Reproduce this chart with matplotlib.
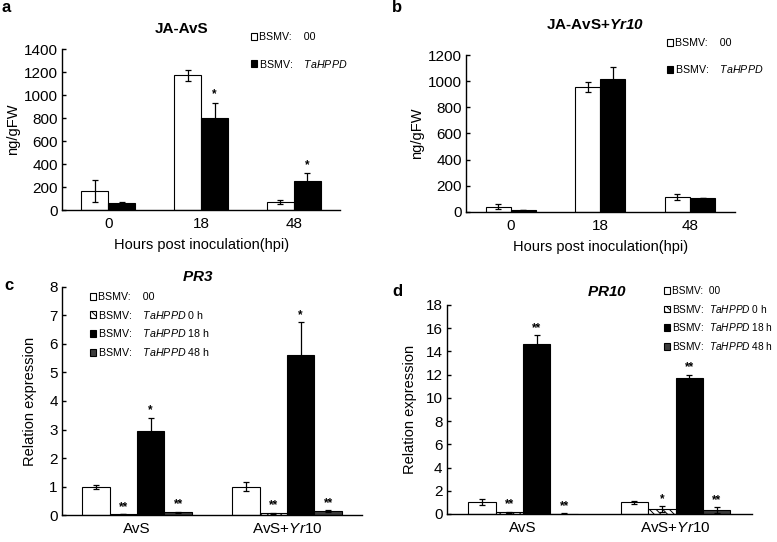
import numpy as np
import matplotlib
matplotlib.use("Agg")
import matplotlib.pyplot as plt
from matplotlib.patches import Patch

plt.rcParams['font.family'] = ['Liberation Sans', 'DejaVu Sans']
plt.rcParams['mathtext.fontset'] = 'custom'
plt.rcParams['mathtext.rm'] = 'Liberation Sans'
plt.rcParams['mathtext.it'] = 'Liberation Sans:italic'
plt.rcParams['mathtext.bf'] = 'Liberation Sans:bold:italic'
plt.rcParams['hatch.linewidth'] = 0.7

# ---- data ----
hpi = ['0', '18', '48']

ja_avs_00 = [165, 1170, 70]
ja_avs_00_err = [95, 50, 20]
ja_avs_hppd = [60, 800, 250]
ja_avs_hppd_err = [8, 135, 70]
ja_avs_stars = ['', '*', '*']

ja_yr10_00 = [40, 955, 115]
ja_yr10_00_err = [20, 35, 25]
ja_yr10_hppd = [12, 1015, 108]
ja_yr10_hppd_err = [0, 90, 0]

groups = ['AvS', r'AvS+$\it{Yr10}$']
pr3_00 = [1.0, 1.0]
pr3_00_err = [0.07, 0.17]
pr3_0h = [0.03, 0.06]
pr3_0h_err = [0.01, 0.02]
pr3_18h = [2.95, 5.62]
pr3_18h_err = [0.47, 1.15]
pr3_48h = [0.1, 0.13]
pr3_48h_err = [0.02, 0.04]
pr3_stars = [['', '**', '*', '**'], ['', '**', '*', '**']]

pr10_00 = [1.0, 1.0]
pr10_00_err = [0.25, 0.15]
pr10_0h = [0.15, 0.45]
pr10_0h_err = [0.05, 0.25]
pr10_18h = [14.6, 11.7]
pr10_18h_err = [0.8, 0.3]
pr10_48h = [0.04, 0.35]
pr10_48h_err = [0.01, 0.25]
pr10_stars = [['', '**', '**', '**'], ['', '*', '**', '**']]


def labels4(gap):
    sp = ' ' * gap
    return ['BSMV:' + sp + '00',
            'BSMV:' + sp + r'$\it{TaHPPD}$ 0 h',
            'BSMV:' + sp + r'$\it{TaHPPD}$ 18 h',
            'BSMV:' + sp + r'$\it{TaHPPD}$ 48 h']


lab_00 = 'BSMV:    00'
lab_hppd = r'BSMV:    $\it{TaHPPD}$'

styles = [dict(color='white', hatch=None),
          dict(color='white', hatch='\\\\\\\\\\'),
          dict(color='black', hatch=None),
          dict(color='#3c3c3c', hatch=None)]

FS = 10.5      # axis labels
LFS = 7.7      # legend
fig = plt.figure(figsize=(7.77, 5.42), dpi=100)


def style_ax(ax, ylim, step):
    ax.set_ylim(*ylim)
    ax.set_yticks(np.arange(ylim[0], ylim[1] + step / 2, step))
    for s in ['top', 'right']:
        ax.spines[s].set_visible(False)
    ax.spines['left'].set_linewidth(1)
    ax.spines['bottom'].set_linewidth(1)
    ax.tick_params(axis='y', direction='in', length=3, width=1, labelsize=FS + 0.5, pad=3)
    ax.tick_params(axis='x', length=0, labelsize=FS + 0.5, pad=5)


def draw_bars(ax, x, vals, errs, width, style, stars=None, offset=0.0):
    ax.bar(x, vals, width, color=style['color'], edgecolor='black', hatch=style['hatch'],
           linewidth=0.8, zorder=2)
    ax.errorbar(x, vals, yerr=errs, fmt='none', ecolor='black', elinewidth=0.9,
                capsize=2.5, capthick=0.9, zorder=3)
    if stars:
        for xi, v, e, s in zip(x, vals, errs, stars):
            if s:
                ax.text(xi, v + e + offset, s, ha='center', va='bottom',
                        fontsize=8.5, fontweight='bold')


def legend(handles, labels, xy, spacing, fs=LFS):
    fig.legend(handles=handles, labels=labels, loc='upper left', bbox_to_anchor=xy,
               frameon=False, fontsize=fs, handlelength=0.6, handleheight=0.6,
               handletextpad=0.15, labelspacing=spacing, borderpad=0, borderaxespad=0)


two = [Patch(facecolor='white', edgecolor='black', linewidth=0.8),
       Patch(facecolor='black', edgecolor='black', linewidth=0.8)]

# ---- panel a ----
ax = fig.add_axes([0.0798, 0.6125, 0.358, 0.297])
x = np.arange(3)
w = 0.29
draw_bars(ax, x - w / 2, ja_avs_00, ja_avs_00_err, w, styles[0])
draw_bars(ax, x + w / 2, ja_avs_hppd, ja_avs_hppd_err, w, styles[2], ja_avs_stars, 20)
ax.set_xlim(-0.5, 2.5)
style_ax(ax, (0, 1400), 200)
ax.set_xticks(x)
ax.set_xticklabels(hpi)
ax.set_ylabel('ng/gFW', fontsize=FS, labelpad=3)
ax.set_xlabel('Hours post inoculation(hpi)', fontsize=FS, labelpad=5)
ax.text(0.43, 1.124, 'JA-AvS', transform=ax.transAxes, ha='center', va='center',
        fontsize=FS + 0.5, fontweight='bold')
legend(two, [lab_00, lab_hppd], (251 / 777, 1 - 32 / 542), 1.45)

# ---- panel b ----
ax = fig.add_axes([0.5997, 0.609, 0.346, 0.2895])
w = 0.28
draw_bars(ax, x - w / 2, ja_yr10_00, ja_yr10_00_err, w, styles[0])
draw_bars(ax, x + w / 2, ja_yr10_hppd, ja_yr10_hppd_err, w, styles[2])
ax.set_xlim(-0.5, 2.5)
style_ax(ax, (0, 1200), 200)
ax.set_xticks(x)
ax.set_xticklabels(hpi)
ax.set_ylabel('ng/gFW', fontsize=FS, labelpad=3)
ax.set_xlabel('Hours post inoculation(hpi)', fontsize=FS, labelpad=5)
ax.text(0.48, 1.19, r'JA-AvS+$\mathbf{Yr10}$', transform=ax.transAxes, ha='center',
        va='center', fontsize=FS + 0.5, fontweight='bold')
legend(two, [lab_00, lab_hppd], (667 / 777, 1 - 38 / 542), 1.4)


def expr_panel(rect, series, errs, stars, ylim, step, title, tx, ty, legend_xy, w, lp, gap, lfs):
    ax = fig.add_axes(rect)
    xg = np.arange(2)
    offs = (np.arange(4) - 1.5) * w
    for i in range(4):
        st = [stars[g][i] for g in range(2)]
        draw_bars(ax, xg + offs[i], series[i], errs[i], w, styles[i], st, ylim[1] * 0.005)
    ax.set_xlim(-0.5, 1.5)
    style_ax(ax, ylim, step)
    ax.set_xticks(xg)
    ax.set_xticklabels(groups)
    ax.set_ylabel('Relation expression', fontsize=FS, labelpad=lp)
    ax.text(tx, ty, title, transform=ax.transAxes, ha='center', va='center',
            fontsize=FS + 0.5, fontweight='bold')
    handles = [Patch(facecolor=s['color'], edgecolor='black', hatch=s['hatch'], linewidth=0.8)
               for s in styles]
    legend(handles, labels4(gap), legend_xy, 0.62 * LFS / lfs, lfs)
    return ax


expr_panel([0.0798, 0.0498, 0.386, 0.4207],
           [pr3_00, pr3_0h, pr3_18h, pr3_48h],
           [pr3_00_err, pr3_0h_err, pr3_18h_err, pr3_48h_err],
           pr3_stars, (0, 8), 1, r'$\mathbf{PR3}$', 0.453, 1.044,
           (90 / 777, 1 - 292 / 542), 0.183, 9, 4, LFS)

expr_panel([0.575, 0.0517, 0.3925, 0.3856],
           [pr10_00, pr10_0h, pr10_18h, pr10_48h],
           [pr10_00_err, pr10_0h_err, pr10_18h_err, pr10_48h_err],
           pr10_stars, (0, 18), 2, r'$\mathbf{PR10}$', 0.525, 1.062,
           (664 / 777, 1 - 286 / 542), 0.18, 6, 2, 7.3)

# panel letters
for lx, ly, lt in [(2, 8, 'a'), (392, 8, 'b'), (4, 285, 'c'), (392, 292, 'd')]:
    fig.text(lx / 777, 1 - ly / 542, lt, fontsize=12, fontweight='bold', va='center')

fig.savefig('out.png', dpi=100)
